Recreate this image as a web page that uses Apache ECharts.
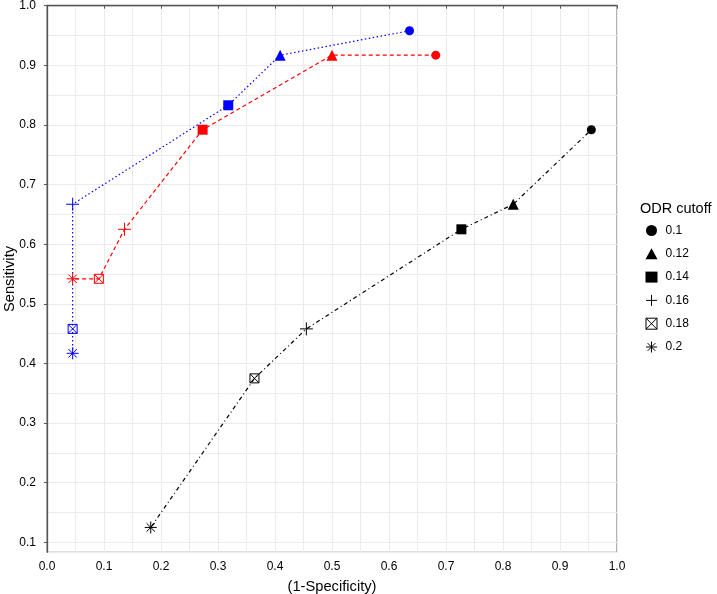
<!DOCTYPE html>
<html><head><meta charset="utf-8">
<script src="https://cdn.jsdelivr.net/npm/echarts@6/dist/echarts.min.js"></script>
<style>html,body{margin:0;padding:0;background:#fff}#c{width:717px;height:594px}</style>
</head><body><div id="c"></div>
<script>
const cutoffs = ['0.1','0.12','0.14','0.16','0.18','0.2'];
const blueX  = [0.636, 0.409, 0.318, 0.045, 0.045, 0.045];
const blueY  = [0.958, 0.917, 0.833, 0.667, 0.458, 0.417];
const redX   = [0.682, 0.500, 0.273, 0.136, 0.091, 0.045];
const redY   = [0.917, 0.917, 0.792, 0.625, 0.542, 0.542];
const blackX = [0.955, 0.818, 0.727, 0.455, 0.364, 0.182];
const blackY = [0.792, 0.667, 0.625, 0.458, 0.375, 0.125];
const xTicks = [0,0.1,0.2,0.3,0.4,0.5,0.6,0.7,0.8,0.9,1.0];
const yTicks = [0.1,0.2,0.3,0.4,0.5,0.6,0.7,0.8,0.9,1.0];

const FONT = 'Arial, "Liberation Sans", sans-serif';
const PLUS = 'path://M0,5L10,5M5,0L5,10';
const BOXX = 'path://M0,0L10,0L10,10L0,10ZM0,0L10,10M10,0L0,10';
const STAR = 'path://M5,0L5,10M0,5L10,5M1.5,1.5L8.5,8.5M8.5,1.5L1.5,8.5';
const shapes = [
  {symbol:'circle', size:9, filled:true},
  {symbol:'triangle', size:11, filled:true},
  {symbol:'rect', size:10, filled:true},
  {symbol:PLUS, size:13, filled:false},
  {symbol:BOXX, size:9, filled:false},
  {symbol:STAR, size:12, filled:false}
];
function style(s, c){
  return s.filled ? {color:c, borderWidth:0, opacity:1}
                  : {color:'rgba(0,0,0,0)', borderColor:c, borderWidth:1, opacity:1};
}
function makeSeries(name, xs, ys, color, dash){
  return {
    name: name, type:'line', xAxisIndex:0, yAxisIndex:0,
    data: xs.map((x,i)=>({value:[x, ys[i]], symbol:shapes[i].symbol, symbolSize:shapes[i].size, itemStyle:style(shapes[i], color)})),
    lineStyle:{color:color, width:1.2, type:dash},
    itemStyle:{color:color},
    animation:false, z:3
  };
}
const series = [
  makeSeries('blue', blueX, blueY, '#0000ff', [1.5,2.5]),
  makeSeries('red', redX, redY, '#ff0000', [4,3]),
  makeSeries('black', blackX, blackY, '#000000', [1,3,4,3])
];
cutoffs.forEach((c,i)=>{
  series.push({name:c, type:'scatter', data:[], symbol:shapes[i].symbol, symbolSize:shapes[i].size,
    itemStyle:style(shapes[i], '#000')});
});

const chart = echarts.init(document.getElementById('c'), null, {renderer:'canvas'});
chart.setOption({
  animation:false,
  backgroundColor:'#fff',
  textStyle:{fontFamily:FONT},
  title:{text:'ODR cutoff', left:640, top:201, padding:0, textStyle:{fontFamily:FONT, fontSize:14.5, fontWeight:'normal', color:'#000'}},
  legend:{
    data: cutoffs, orient:'vertical', left:645.5, top:224.5, padding:0,
    itemWidth:12, itemHeight:11, itemGap:11.3, selectedMode:false, symbolKeepAspect:true,
    itemStyle:{borderWidth:1},
    textStyle:{fontFamily:FONT, fontSize:12, color:'#000', padding:[0,0,0,3]}
  },
  grid:{left:47, right:100, top:5.7, bottom:41.7, show:true, borderColor:'#666', borderWidth:1, backgroundColor:'#fff', outerBoundsMode:'none', containLabel:false},
  xAxis:{
    type:'value', min:0, max:1, interval:0.1,
    name:'(1-Specificity)', nameLocation:'middle', nameGap:27, nameMoveOverlap:false,
    nameTextStyle:{fontFamily:FONT, fontSize:14.7, color:'#000'},
    axisLine:{show:true, lineStyle:{color:'#555', width:1.3}},
    axisTick:{show:true, length:3, lineStyle:{color:'#555'}},
    axisLabel:{fontFamily:FONT, fontSize:12, color:'#000', margin:8, formatter:v=>v.toFixed(1), customValues:xTicks},
    splitLine:{show:true, lineStyle:{color:'#ebebeb', width:1}},
    minorTick:{show:false, splitNumber:2},
    minorSplitLine:{show:true, lineStyle:{color:'#ebebeb', width:1}}
  },
  yAxis:[{
    type:'value', min:0.0833, max:1.0,
    name:'Sensitivity', nameLocation:'middle', nameGap:30, nameRotate:90, nameMoveOverlap:false,
    nameTextStyle:{fontFamily:FONT, fontSize:14.7, color:'#000'},
    axisLine:{show:true, lineStyle:{color:'#555', width:1.3}},
    axisTick:{show:true, length:3, lineStyle:{color:'#555'}, customValues:yTicks},
    axisLabel:{fontFamily:FONT, fontSize:12, color:'#000', margin:11, formatter:v=>v.toFixed(1), customValues:yTicks},
    splitLine:{show:false}
  },{
    type:'value', inverse:true, min:0, max:0.9167, interval:0.05, position:'left',
    axisLine:{show:false}, axisTick:{show:false}, axisLabel:{show:false},
    splitLine:{show:true, lineStyle:{color:'#ebebeb', width:1}}
  }],
  series: series
});
</script></body></html>
